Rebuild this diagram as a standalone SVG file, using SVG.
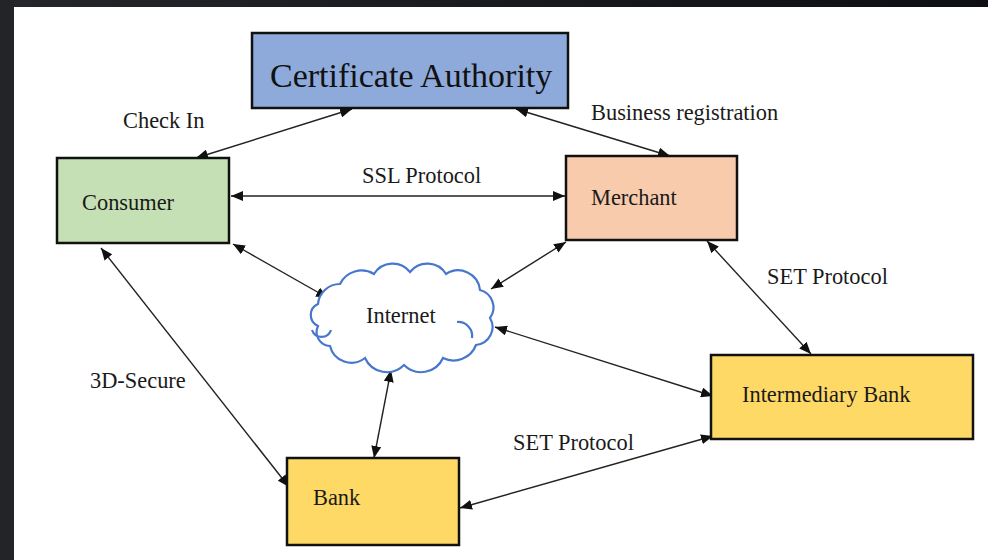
<svg xmlns="http://www.w3.org/2000/svg" width="988" height="560" viewBox="0 0 988 560">
  <defs>
    <linearGradient id="topband" x1="0" y1="0" x2="1" y2="0">
      <stop offset="0" stop-color="#24262b"/>
      <stop offset="1" stop-color="#0e0f13"/>
    </linearGradient>
    <marker id="ah" viewBox="0 0 12 10" refX="12" refY="5" markerWidth="12" markerHeight="10" markerUnits="userSpaceOnUse" orient="auto-start-reverse">
      <path d="M0,0 L12,5 L0,10 z" fill="#111"/>
    </marker>
    <style>
      .box { stroke: #111; stroke-width: 2.5; }
      .lbl { font-size: 22.4px; fill: #1a1a1a; }
      .link { stroke: #222; stroke-width: 1.4; fill: none; marker-start: url(#ah); marker-end: url(#ah); }
      .cloud { fill: #fff; stroke: #4777cc; stroke-width: 2.2; }
      .cloudin { fill: none; stroke: #4777cc; stroke-width: 2.2; }
    </style>
  </defs>

  <!-- page background and window frame -->
  <rect x="0" y="0" width="988" height="560" fill="#ffffff"/>
  <rect x="0" y="0" width="988" height="7" fill="url(#topband)"/>
  <rect x="0" y="0" width="14" height="560" fill="#222428"/>

  <!-- connectors -->
  <g id="connectors">
    <line class="link" x1="352" y1="109" x2="196" y2="158"/>
    <line class="link" x1="516" y1="109" x2="670" y2="156"/>
    <line class="link" x1="231" y1="196" x2="565" y2="196"/>
    <line class="link" x1="233" y1="244" x2="328" y2="298"/>
    <line class="link" x1="566" y1="242" x2="491" y2="289"/>
    <line class="link" x1="707" y1="241" x2="811" y2="354"/>
    <line class="link" x1="495" y1="327" x2="713" y2="396"/>
    <line class="link" x1="391" y1="370" x2="374" y2="458"/>
    <line class="link" x1="460" y1="508" x2="713" y2="436"/>
    <line class="link" x1="101" y1="248" x2="289" y2="487"/>
  </g>

  <g font-family="'Liberation Serif', 'Times New Roman', 'DejaVu Serif', serif">
  <!-- edge labels -->
  <g id="edge-labels">
    <text class="lbl" x="123" y="128">Check In</text>
    <text class="lbl" x="591" y="120">Business registration</text>
    <text class="lbl" x="362" y="183">SSL Protocol</text>
    <text class="lbl" x="767" y="284">SET Protocol</text>
    <text class="lbl" x="90" y="388">3D-Secure</text>
    <text class="lbl" x="513" y="450">SET Protocol</text>
  </g>

  <g id="ca">
    <rect class="box" x="252" y="33" width="316" height="75" fill="#8eaadb"/>
    <text x="270" y="87" font-size="34" fill="#111">Certificate Authority</text>
  </g>

  <g id="consumer">
    <rect class="box" x="57" y="158" width="172" height="85" fill="#c5e0b4"/>
    <text class="lbl" x="82" y="210">Consumer</text>
  </g>

  <g id="merchant">
    <rect class="box" x="566" y="156" width="171" height="84" fill="#f8cbad"/>
    <text class="lbl" x="591" y="205">Merchant</text>
  </g>

  <g id="internet">
    <path class="cloud" d="M318,304
      A22,22 0 0 1 340,284
      A24,24 0 0 1 374,274
      A22,22 0 0 1 410,272
      A22,22 0 0 1 446,274
      A22,22 0 0 1 480,290
      A18,18 0 0 1 490,318
      A18,18 0 0 1 476,345
      A24,24 0 0 1 443,358
      A24,24 0 0 1 404,365
      A24,24 0 0 1 365,358
      A22,22 0 0 1 330,346
      A14,14 0 0 1 318,326
      A12,12 0 0 1 318,304 Z"/>
    <path class="cloudin" d="M312,330 A10,10 0 0 0 331,330"/>
    <path class="cloudin" d="M457,322 A14,14 0 0 1 472,338"/>
    <text class="lbl" x="366" y="323">Internet</text>
  </g>

  <g id="intermediary-bank">
    <rect class="box" x="711" y="355" width="262" height="84" fill="#ffd966"/>
    <text class="lbl" x="742" y="402">Intermediary Bank</text>
  </g>

  <g id="bank">
    <rect class="box" x="287" y="458" width="172" height="87" fill="#ffd966"/>
    <text class="lbl" x="313" y="505">Bank</text>
  </g>
  </g>
</svg>
